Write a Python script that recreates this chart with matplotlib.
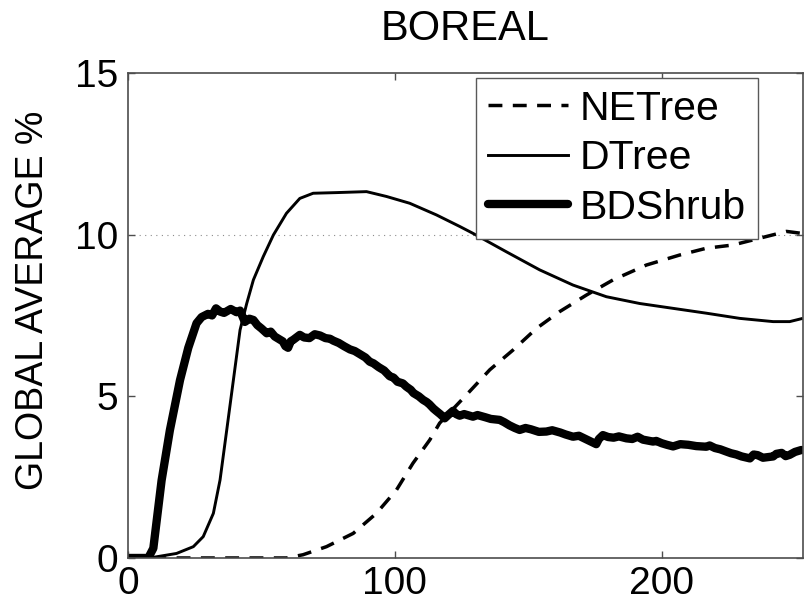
import matplotlib
matplotlib.use('Agg')
import matplotlib.pyplot as plt

plt.rcParams['font.family'] = ['Liberation Sans', 'DejaVu Sans']

# NETree (dashed)
ne_x = [0, 59.4, 65.6, 74.4, 84.4, 93.1, 100.6, 106.8, 113.1, 116.8, 126.8, 135.6,
        144.3, 153.1, 161.8, 171.8, 181.8, 194.3, 206.8, 216.8, 226.8, 236.8, 246.8, 252.4]
ne_y = [0, 0.0, 0.1, 0.35, 0.76, 1.38, 2.1, 2.93, 3.65, 4.17, 5.04, 5.82,
        6.43, 7.1, 7.62, 8.13, 8.6, 9.06, 9.37, 9.58, 9.68, 9.89, 10.1, 10.04]

# DTree (thin solid)
dt_x = [0, 9.5, 18.2, 24.5, 28.2, 32, 34.5, 37, 39.5, 42, 44.5, 47, 50.7, 54.5, 59.4,
        64.4, 69.4, 78.2, 89.4, 96.9, 105.6, 115.6, 124.4, 129.3, 141.8, 154.3, 166.8,
        179.3, 191.8, 204.3, 216.8, 229.3, 241.8, 248, 252.4]
dt_y = [0, 0.02, 0.14, 0.35, 0.66, 1.38, 2.41, 3.95, 5.5, 7.05, 7.87, 8.6, 9.32, 9.99, 10.66,
        11.12, 11.28, 11.3, 11.33, 11.18, 10.97, 10.61, 10.25, 10.04, 9.47, 8.91, 8.44,
        8.08, 7.87, 7.72, 7.57, 7.41, 7.31, 7.31, 7.4]

# BDShrub (thick, noisy)
bd_x = [0, 7.6, 9.5, 12.6, 15.7, 19.5, 22.6, 25.7, 27.6, 30, 31.5, 33, 34.5, 36, 38.5,
        40.7, 42, 43.8, 45.5, 47, 48.5, 50, 52, 53.5, 55, 58, 59, 60, 61, 62, 64.4, 66,
        68, 70, 72, 74, 75.7, 77, 79, 81, 83.2, 85, 87, 89, 90.6, 92, 94, 96, 98.1, 99.5,
        101, 103, 104.3, 106, 107, 109, 110.6, 112, 113, 114.5, 115.5, 117, 118.7, 120,
        121.8, 123, 124.3, 126, 129.3, 131, 134, 136, 139.3, 141, 143, 145, 146.8, 149,
        151, 154, 156.8, 159, 162, 164, 166.8, 169, 171, 173, 175.5, 176.5, 178, 180, 182,
        184, 186.8, 189, 191, 193, 196.8, 198, 200, 202, 204.3, 207, 210, 213, 216.8, 218,
        220, 222, 224.3, 226, 228, 230, 233.1, 234.5, 236, 238, 241.8, 243, 245, 246.5,
        248, 250, 252.4]
bd_y = [0, 0.0, 0.3, 2.4, 3.95, 5.5, 6.5, 7.26, 7.45, 7.55, 7.5, 7.72, 7.62, 7.58, 7.7,
        7.6, 7.65, 7.3, 7.4, 7.36, 7.2, 7.1, 6.95, 7.0, 6.85, 6.7, 6.55, 6.5, 6.7, 6.75, 6.9, 6.82,
        6.8, 6.92, 6.88, 6.8, 6.78, 6.72, 6.65, 6.55, 6.45, 6.4, 6.3, 6.2, 6.07, 6.02, 5.9, 5.8, 5.62, 5.58,
        5.45, 5.4, 5.3, 5.2, 5.1, 5.0, 4.89, 4.82, 4.75, 4.62, 4.55, 4.45, 4.32, 4.42,
        4.55, 4.45, 4.4, 4.45, 4.37, 4.42, 4.35, 4.3, 4.27, 4.2, 4.1, 4.02, 3.96, 4.02,
        3.98, 3.9, 3.91, 3.95, 3.88, 3.82, 3.75, 3.78, 3.7, 3.62, 3.52, 3.68, 3.8, 3.74, 3.72,
        3.76, 3.7, 3.68, 3.75, 3.66, 3.6, 3.62, 3.55, 3.5, 3.45, 3.52, 3.5, 3.46, 3.44, 3.48,
        3.4, 3.36, 3.29, 3.24, 3.2, 3.14, 3.08, 3.2, 3.18, 3.1, 3.14, 3.22, 3.25, 3.15,
        3.19, 3.28, 3.34]

labels = ['NETree', 'DTree', 'BDShrub']
x_ticks = [0, 100, 200]
y_ticks = [0, 5, 10, 15]
ref_level = 10


def main():
    fig = plt.figure(figsize=(8.09, 6.04), dpi=100)
    ax = fig.add_axes([0.1582, 0.0762, 0.8344, 0.803])

    ax.axhline(ref_level, color='0.55', lw=0.8, ls=(0, (1, 4)), zorder=1)
    p1, = ax.plot(ne_x, ne_y, 'k', lw=2.5, dashes=(4, 3))
    p2, = ax.plot(dt_x, dt_y, 'k', lw=2.1)
    p3, = ax.plot(bd_x, bd_y, 'k', lw=6, solid_joinstyle='round', solid_capstyle='round')

    ax.set_xlim(0, 253)
    ax.set_ylim(0, 15)
    ax.set_xticks(x_ticks)
    ax.set_yticks(y_ticks)
    ax.tick_params(direction='in', length=5, width=1, top=True, right=True,
                   labelsize=28, colors='0.3', labelcolor='black')
    ax.tick_params(axis='x', pad=5.5)
    ax.tick_params(axis='y', pad=7)
    for s in ax.spines.values():
        s.set_color('0.3')
        s.set_linewidth(1.2)

    leg = ax.legend([p1, p2, p3], labels, loc='upper right',
                    bbox_to_anchor=(0.933, 0.99), borderaxespad=0,
                    fontsize=29.5, handlelength=1.95, handletextpad=0.29,
                    labelspacing=0.28, borderpad=0.29, fancybox=False,
                    framealpha=1, edgecolor='0.35')
    leg.get_frame().set_linewidth(1.0)

    fig.text(465 / 809, 1 - 29 / 604, 'BOREAL', ha='center', va='center', fontsize=30)
    fig.text(33 / 809, 1 - 300 / 604, 'GLOBAL AVERAGE %', ha='center', va='center',
             rotation=90, fontsize=27)

    fig.savefig('out.png', dpi=100)


if __name__ == '__main__':
    main()
